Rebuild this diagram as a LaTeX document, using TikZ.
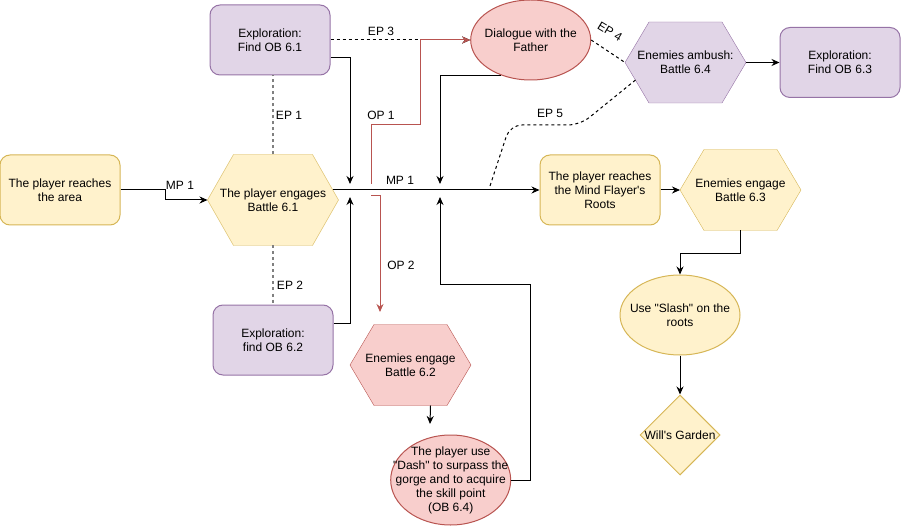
\documentclass[tikz,border=0pt]{standalone}
\usepackage{fontspec}
\setmainfont{Liberation Sans}[Ligatures=TeXOff]
\usepackage{xcolor}
\usepackage{tikz}
\usetikzlibrary{arrows.meta,shapes.geometric,backgrounds,calc}

\definecolor{yelfill}{HTML}{FFF2CC}
\definecolor{yeldraw}{HTML}{D6B656}
\definecolor{purfill}{HTML}{E1D5E7}
\definecolor{purdraw}{HTML}{9673A6}
\definecolor{redfill}{HTML}{F8CECC}
\definecolor{reddraw}{HTML}{B85450}
\definecolor{epgray}{HTML}{808080}

\newcommand{\hexback}[3]{%
  \begin{scope}[on background layer]
    \filldraw[#3] (#1.west) -- ([xshift=#2]#1.north west) -- 
    ([xshift=-#2]#1.north east) -- (#1.east) -- ([xshift=-#2]#1.south east) 
    -- ([xshift=#2]#1.south west) -- cycle;
  \end{scope}}

\begin{document}
\begin{tikzpicture}[x=1pt, y=-1pt, line width=1pt,
    every node/.style={font=\fontsize{12}{14}\selectfont, align=center},
    yel/.style={fill=yelfill, draw=yeldraw},
    pur/.style={fill=purfill, draw=purdraw},
    rd/.style={fill=redfill, draw=reddraw},
    box/.style={rounded corners=10, minimum width=120, minimum height=70, 
        inner sep=0},
    hexa/.style={minimum width=120, minimum height=80, inner sep=0},
    oval/.style={ellipse, minimum width=120, minimum height=80, inner sep=0},
    arr/.style={-{Stealth[length=8pt,width=7pt]}},
    opline/.style={draw=reddraw},
    epdot/.style={draw=epgray, line width=1.5pt, dash pattern=on 3pt off 3pt},
    epdash/.style={dash pattern=on 3pt off 3pt},
    lbl/.style={inner sep=1pt}]
                  \useasboundingbox (0,0) rectangle (901,526);
                  
                  \node[box, yel] (area) at (60,190) {The player reaches\\the 
                  area};
                  \node[box, pur] (ob61) at (270,40) {Exploration:\\Find OB 
                  6.1};
                  \node[box, pur] (ob62) at (273,340) {Exploration:\\find OB 
                  6.2};
                  \node[box, pur] (ob63) at (840,62.5) {Exploration:\\Find OB 
                  6.3};
                  \node[box, yel] (mf) at (600,190) {The player reaches\\the 
                  Mind Flayer's\\Roots};
                  
                  \node[hexa, minimum width=130, minimum height=90] (b61) at 
                  (273,200) {The player engages\\Battle 6.1};
                  \hexback{b61}{26}{yel}
                  \node[hexa] (b64) at (685.5,62.5) {Enemies ambush:\\Battle 
                  6.4};
                  \hexback{b64}{24}{pur}
                  \node[hexa] (b63) at (740.5,190) {Enemies engage\\Battle 
                  6.3};
                  \hexback{b63}{24}{yel}
                  \node[hexa] (b62) at (410.5,365) {Enemies engage\\Battle 
                  6.2};
                  \hexback{b62}{24}{rd}
                  
                  \node[oval, rd, label={center:Dialogue with the\\Father}] 
                  (dlg) at (530.7,40) {};
                  \node[oval, rd, minimum height=90, label={center:The player 
                  use\\"Dash" to surpass the\\gorge and to acquire\\the skill 
                  point\\(OB 6.4)}] (dash) at (450.7,480) {};
                  \node[oval, yel, label={center:Use "Slash" on the\\roots}] 
                  (slash) at (680,315) {};
                  \node[diamond, yel, minimum width=80, minimum height=80, 
                  inner sep=0, label={center:Will's Garden}] (garden) at 
                  (680,435) {};
                  
                  \coordinate (j1) at (350,184);
                  \coordinate (j2) at (350,197);
                  \coordinate (j3) at (440,184);
                  \coordinate (j4) at (440,197);
                  \coordinate (o1) at (371,184);
                  \coordinate (o2) at (371,196);
                  \coordinate (o2e) at (380,312);
                  \coordinate (e5) at (490,186);
                  \coordinate (d2) at (430,424);
                  
                  \draw[arr] (area.east) -- ++(45,0) |- (b61.west);
                  \draw[arr] ([xshift=-6pt,yshift=10pt]b61.east) -- (mf.west);
                  \draw[arr] ([yshift=-18pt]ob61.east) -| (j1);
                  \draw[arr] ([yshift=17pt]ob62.east) -| (j2);
                  \draw[arr] (dlg.230) -| (j3);
                  \draw[arr] (dash.east) -| (530,285) -| (j4);
                  \draw[arr] ([xshift=20pt]b62.south) -- (d2);
                  \draw[epdot] (b61.north) -- (b61.north |- ob61.south);
                  \draw[epdot] (b61.south) -- (b61.south |- ob62.north);
                  \draw[epdash, arr] (ob61.east) -- (dlg.west);
                  \draw[opline, arr] (o1) -- (371,125) -| (420,40) -- 
                  (dlg.west);
                  \draw[opline, arr] (o2) -| (o2e);
                  \draw[epdash] (dlg.east) -- (b64.west);
                  \draw[epdash, rounded corners=12] 
                  ($(b64.west)+(10.5,17.5)$) -- (580,125) -- (510,125) -- (e5);
                  \draw[arr] (b64.east) -- (ob63.west);
                  \draw[arr] (mf.east) -- (b63.west);
                  \draw[arr] (b63.south) -- ++(0,23) -| (slash.north);
                  \draw[arr] (slash.south) -- (garden.north);
                  
                  \node[lbl] (mpa) at (180,185) {MP 1};
                  \node[lbl] (mpb) at (400,180) {MP 1};
                  \node[lbl] (ep1) at (289,115) {EP 1};
                  \node[lbl] (ep2) at (290,285) {EP 2};
                  \node[lbl] (ep3) at (381,31) {EP 3};
                  \node[lbl] (op1) at (381,115) {OP 1};
                  \node[lbl] (op2) at (401,265) {OP 2};
                  \node[lbl, rotate=-31] (ep4) at (610,32) {EP 4};
                  \node[lbl] (ep5) at (550,113) {EP 5};
              \end{tikzpicture}
\end{document}
